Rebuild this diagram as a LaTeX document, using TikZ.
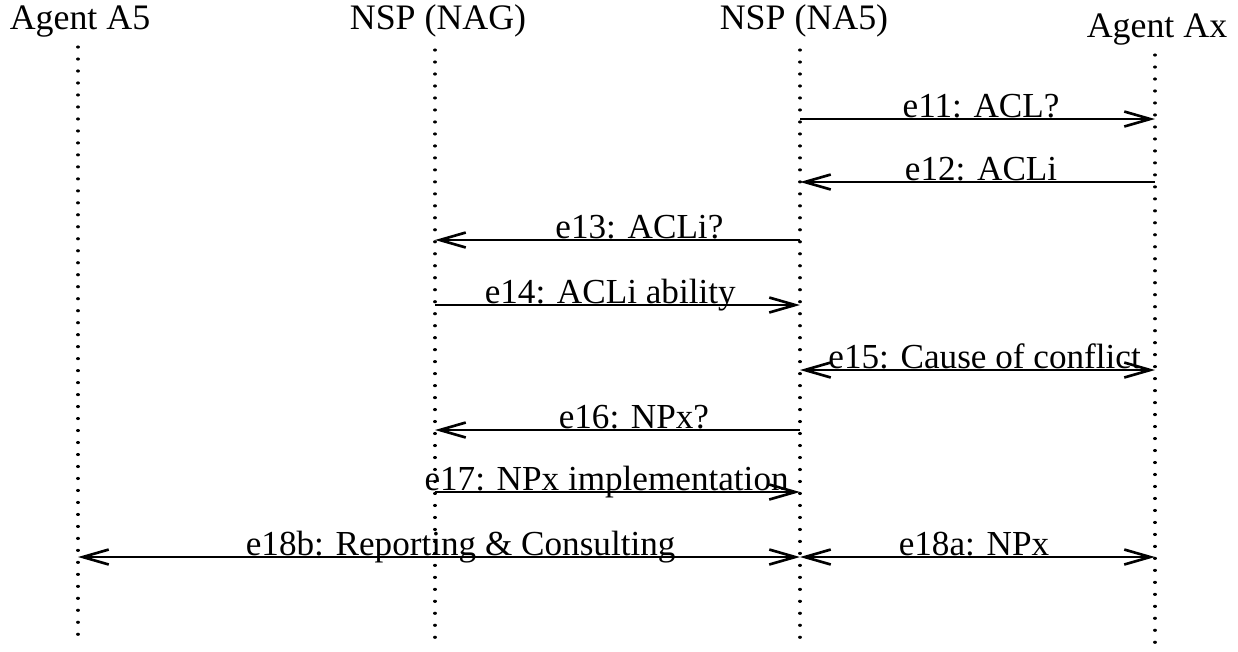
\documentclass[tikz,border=0pt]{standalone}
\usepackage{fontspec}
\setmainfont{Liberation Serif}
\usetikzlibrary{arrows.meta}

\tikzset{
  lifeline/.style={line width=0.9pt, dash pattern=on 0.01pt off 3.4pt, line cap=round},
  msg/.style={line width=0.75pt, -{Straight Barb[length=2.6mm,width=1.5mm]}},
  bimsg/.style={line width=0.75pt, {Straight Barb[length=2.6mm,width=1.5mm]}-{Straight Barb[length=2.6mm,width=1.5mm]}},
  head/.style={font=\fontsize{10.2}{12}\selectfont, anchor=base, inner sep=0pt},
  lbl/.style={font=\fontsize{10}{12}\selectfont, anchor=base, inner sep=0pt, yshift=0.3pt}
}

\begin{document}
\begin{tikzpicture}
\useasboundingbox (0,0) rectangle (12.38,-6.51);
% headers
\node[head] (hA5) at (0.80,-0.29) {Agent A5};
\node[head] (hNAG) at (4.38,-0.29) {NSP (NAG)};
\node[head] (hNA5) at (8.04,-0.29) {NSP (NA5)};
\node[head] (hAx) at (11.57,-0.37) {Agent Ax};
% lifelines
\coordinate (a5) at (0.78,-0.47);
\coordinate (nag) at (4.35,-0.50);
\coordinate (na5) at (8.00,-0.50);
\coordinate (ax) at (11.55,-0.55);
\coordinate (bot) at (0,-6.45);
\draw[lifeline] (a5) -- (a5 |- bot);
\draw[lifeline] (nag) -- (nag |- bot);
\draw[lifeline] (na5) -- (na5 |- bot);
\draw[lifeline] (ax) -- (ax |- bot);
% message rows
\coordinate (r11) at (0,-1.19);
\coordinate (r12) at (0,-1.82);
\coordinate (r13) at (0,-2.40);
\coordinate (r14) at (0,-3.05);
\coordinate (r15) at (0,-3.70);
\coordinate (r16) at (0,-4.30);
\coordinate (r17) at (0,-4.92);
\coordinate (r18) at (0,-5.57);
% messages
\draw[msg] (na5 |- r11) -- (ax |- r11) node[lbl, pos=0.51] {e11: ACL?};
\draw[msg] (ax |- r12) -- (na5 |- r12) node[lbl, pos=0.49] {e12: ACLi};
\draw[msg] (na5 |- r13) -- (nag |- r13) node[lbl, pos=0.44] {e13: ACLi?};
\draw[msg] (nag |- r14) -- (na5 |- r14) node[lbl, pos=0.48] {e14: ACLi ability};
\draw[bimsg] (na5 |- r15) -- (ax |- r15) node[lbl, pos=0.52] {e15: Cause of conflict};
\draw[msg] (na5 |- r16) -- (nag |- r16) node[lbl, pos=0.455] {e16: NPx?};
\draw[msg] (nag |- r17) -- (na5 |- r17) node[lbl, pos=0.47] {e17: NPx implementation};
\draw[bimsg] (a5 |- r18) -- (na5 |- r18) node[lbl, pos=0.53] {e18b: Reporting \& Consulting};
\draw[bimsg] (na5 |- r18) -- (ax |- r18) node[lbl, pos=0.49] {e18a: NPx};
\end{tikzpicture}
\end{document}
